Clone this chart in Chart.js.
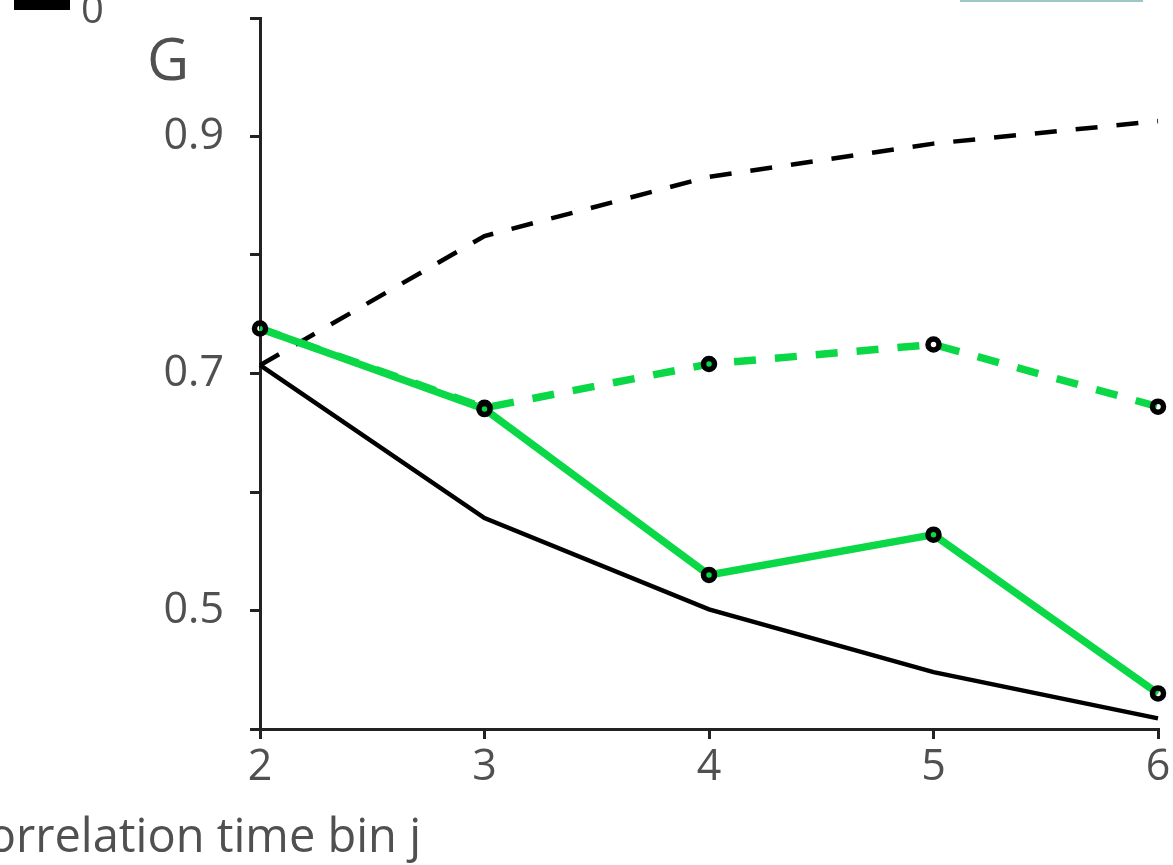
<!DOCTYPE html>
<html>
<head>
<meta charset="utf-8">
<script src="https://cdn.jsdelivr.net/npm/chart.js@4.4.1/dist/chart.umd.min.js"></script>
<style>
  html, body { margin: 0; padding: 0; background: #fff; }
  #wrap { width: 1173px; height: 865px; }
</style>
</head>
<body>
<div id="wrap"><canvas id="gChart" width="1173" height="865"></canvas></div>
<script>
// correlation time bins
const bins = [2, 3, 4, 5, 6];

// G per bin, for each curve
const blackSolid = [0.707, 0.578, 0.501, 0.448, 0.409];
const blackDashed = [0.707, 0.816, 0.866, 0.894, 0.913];
const greenSolid = [0.738, 0.670, 0.530, 0.564, 0.430];
const greenDashed = [0.738, 0.671, 0.708, 0.7245, 0.672];

const yLabelled = ['0.9', '0.7', '0.5'];

const textGrey = '#505050';
const axisColor = '#222222';
const green = '#0bd846';

function toPoints(values) {
    return bins.map((b, i) => ({ x: b, y: values[i] }));
}

// labels and pieces of the neighbouring panels
const extras = {
    id: 'extras',
    afterDraw(chart) {
        const ctx = chart.ctx;
        ctx.save();
        ctx.fillStyle = '#000';
        ctx.fillRect(14, 0, 56, 10);
        ctx.fillStyle = '#9dc6c6';
        ctx.fillRect(960, 0, 183, 2);

        ctx.fillStyle = textGrey;
        ctx.textBaseline = 'alphabetic';
        ctx.textAlign = 'left';
        ctx.font = '40px "Open Sans"';
        ctx.fillText('0', 81, 23);

        ctx.font = '58px "Open Sans"';
        ctx.fillText('G', 147, 80);

        ctx.textAlign = 'right';
        ctx.font = '47px "Open Sans"';
        ctx.fillText('Correlation time bin j', 421, 852);
        ctx.restore();
    }
};

const ctx = document.getElementById('gChart').getContext('2d');
new Chart(ctx, {
    type: 'line',
    data: {
        datasets: [
            {
                label: 'green solid',
                data: toPoints(greenSolid),
                borderColor: green,
                borderWidth: 7.5,
                pointRadius: 5.5,
                pointBorderWidth: 5.5,
                pointBorderColor: '#000',
                pointBackgroundColor: 'rgba(0,0,0,0)',
                order: 1
            },
            {
                label: 'green dashed',
                data: toPoints(greenDashed),
                borderColor: green,
                borderWidth: 7.5,
                borderDash: [22, 19],
                pointRadius: [0, 5.5, 5.5, 5.5, 5.5],
                pointBorderWidth: 5.5,
                pointBorderColor: '#000',
                pointBackgroundColor: 'rgba(0,0,0,0)',
                order: 2
            },
            {
                label: 'black dashed',
                data: toPoints(blackDashed),
                borderColor: '#000',
                borderWidth: 4.5,
                borderDash: [22, 19],
                pointRadius: 0,
                order: 3
            },
            {
                label: 'black solid',
                data: toPoints(blackSolid),
                borderColor: '#000',
                borderWidth: 4.5,
                pointRadius: 0,
                order: 4
            }
        ]
    },
    options: {
        responsive: false,
        animation: false,
        clip: false,
        layout: { padding: { left: 0, top: 18, right: 15, bottom: 0 } },
        plugins: {
            legend: { display: false },
            tooltip: { enabled: false }
        },
        elements: { line: { tension: 0, borderJoinStyle: 'miter' } },
        scales: {
            x: {
                type: 'linear',
                min: 2,
                max: 6,
                ticks: {
                    stepSize: 1,
                    color: textGrey,
                    padding: 3,
                    font: { family: 'Open Sans', size: 43 }
                },
                grid: {
                    drawOnChartArea: false,
                    tickLength: 10,
                    color: axisColor,
                    lineWidth: 3
                },
                border: { color: axisColor, width: 3 },
                afterFit(scale) {
                    scale.height = 136;
                    scale.paddingLeft = 0;
                    scale.paddingRight = 0;
                }
            },
            y: {
                min: 0.4,
                max: 1.0,
                ticks: {
                    stepSize: 0.1,
                    color: textGrey,
                    padding: 26,
                    font: { family: 'Open Sans', size: 43 },
                    callback(v) {
                        const s = v.toFixed(1);
                        return yLabelled.includes(s) ? s : '';
                    }
                },
                grid: {
                    drawOnChartArea: false,
                    tickLength: 10,
                    color: axisColor,
                    lineWidth: 3
                },
                border: { color: axisColor, width: 3 },
                afterFit(scale) {
                    scale.width = 260;
                    scale.paddingTop = 0;
                    scale.paddingBottom = 0;
                }
            }
        }
    },
    plugins: [extras]
});
</script>
</body>
</html>
